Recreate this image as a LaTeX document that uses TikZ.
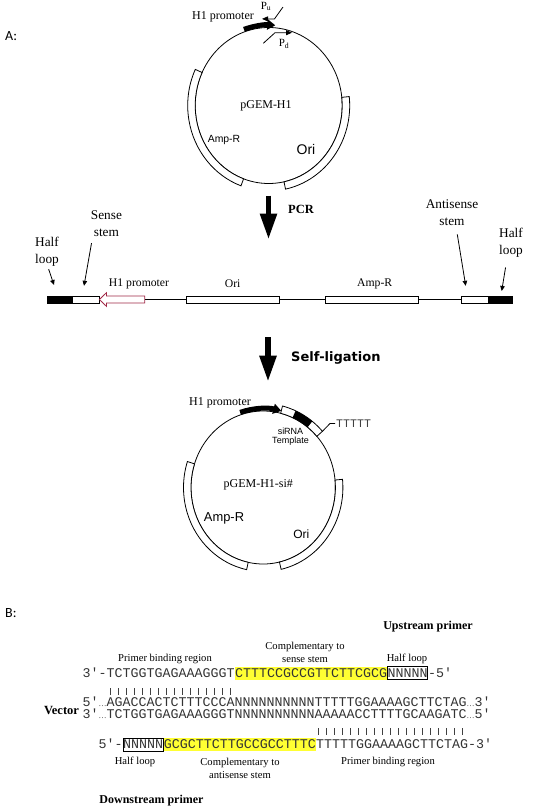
\documentclass[tikz,border=0pt]{standalone}
\usepackage{fontspec}
\setmainfont{Liberation Serif}
\setsansfont{Liberation Sans}
\setmonofont{Liberation Mono}
\newfontfamily\calfont{Carlito}
\newfontfamily\djfont{DejaVu Sans}
\usetikzlibrary{arrows.meta,positioning}
\definecolor{hlyellow}{RGB}{255,255,51}
\definecolor{promred}{RGB}{160,40,70}

\begin{document}
\begin{tikzpicture}[x = 1pt, y = -1pt,
    every node/.style = {inner sep = 1pt},
    ln/.style = {line width = 0.8pt},
    ring/.style = {draw, line width = 0.8pt, fill = white},
    bigarrow/.style = {line width = 5.5pt, -{Triangle[length = 26pt, width = 16pt]}},
    ptr/.style = {line width = 0.8pt, -{Triangle[length = 5pt, width = 4.5pt]}},
    primer/.style = {line width = 0.8pt, -{Triangle[length = 6pt, width = 5pt]}},
    lbl/.style = {font = \fontsize{13.3}{17}\selectfont, align = center},
    cons/.style = {font = \fontsize{11.7}{13}\selectfont},
    note/.style = {font = \fontsize{10.6}{13}\selectfont, align = center},
    head/.style = {font = \bfseries\fontsize{12}{14}\selectfont},
    seq/.style = {font = \ttfamily\fontsize{13.33}{14}\selectfont, text = black!80, inner sep = 0pt,
        anchor = base west, text height = 10.5pt, text depth = 2.5pt},
    nbox/.style = {draw = black, line width = 0.7pt},
    wbox/.style = {draw, ln, fill = white, minimum height = 7pt, inner sep = 0pt, anchor = west},
    bbox/.style = {draw, ln, fill = black, minimum height = 7pt, inner sep = 0pt, anchor = west},
    bar/.style = {line width = 0.6pt, black!75}]
    \useasboundingbox (0,0) rectangle (538,809);

    % ---------------- A: pGEM-H1
    \node[font = \calfont\fontsize{14}{16}\selectfont, anchor = west] (alabel) at (4,36) {A:};
    \coordinate (c1) at (268.7,105.5);
    \draw[ln] (c1) ellipse [x radius = 73.5, y radius = 78];
    % Amp-R (155 to 250 deg)
    \draw[ring] (202.09,72.54) arc[start angle = -155, end angle = -250, x radius = 73.5, y radius = 78]
        -- (241.0,185.84) arc[start angle = -250, end angle = -155, x radius = 81, y radius = 85.5] -- cycle;
    % Ori (6 to -78 deg)
    \draw[ring] (341.8,97.35) arc[start angle = -6, end angle = 78, x radius = 73.5, y radius = 78]
        -- (285.54,189.13) arc[start angle = 78, end angle = -6, x radius = 81, y radius = 85.5] -- cycle;
    \draw[line width = 5pt, -{Triangle[length = 8pt, width = 10pt]}]
        (243.96,29.39) arc[start angle = -109, end angle = -85, x radius = 76, y radius = 80.5];
    % primers
    \draw[primer] (283,7) -- (274.5,18.9) -- (262,18.9);
    \draw[primer] (263.3,43.3) -- (275,32.7) -- (292,32.7);
    \node[font = \fontsize{12}{14}\selectfont] (h1a) at (223,16.5) {H1 promoter};
    \node[font = \fontsize{11}{12}\selectfont] (pu) at (266,6.5) {P\textsubscript{u}};
    \node[font = \fontsize{11}{12}\selectfont] (pd) at (284,44) {P\textsubscript{d}};
    \node[font = \fontsize{12}{14}\selectfont] (pgem) at (266,106) {pGEM-H1};
    \node[font = \sffamily\fontsize{10.4}{12}\selectfont] (ampa) at (224,140) {Amp-R};
    \node[font = \sffamily\fontsize{14}{16}\selectfont] (oria) at (306,149) {Ori};

    % PCR
    \coordinate (pcrtop) at (268.5,195.6);
    \coordinate (pcrtip) at (268.5,239.5);
    \draw[bigarrow] (pcrtop) -- (pcrtip);
    \node[head, font = \bfseries\fontsize{12.5}{14}\selectfont, anchor = west] (pcr) at (287,209.6) {PCR};

    % linear product
    \node[bbox, minimum width = 24pt] (lblack) at (47,299.5) {};
    \node[wbox, minimum width = 26.8pt] (lwhite) at (lblack.east) {};
    \node[wbox, minimum width = 92.7pt] (orib) at (186,299.5) {};
    \node[wbox, minimum width = 92.7pt] (ampb) at (325.3,299.5) {};
    \node[wbox, minimum width = 27.5pt] (rwhite) at (460.5,299.5) {};
    \node[bbox, minimum width = 23.3pt] (rblack) at (rwhite.east) {};
    \draw[ln] (lwhite.east) -- (orib.west);
    \draw[ln] (orib.east) -- (ampb.west);
    \draw[ln] (ampb.east) -- (rwhite.west);
    \draw[promred, line width = 0.8pt, fill = white] (144.8,296) -- (106.4,296) -- (106.4,292.7)
        -- (lwhite.east) -- (106.4,306.3) -- (106.4,303) -- (144.8,303) -- cycle;
    \node[cons] (h1b) at (139,284) {H1 promoter};
    \node[cons] (orilbl) at (232.7,284) {Ori};
    \node[cons] (amplbl) at (374.7,284) {Amp-R};

    \node[lbl] (hlL) at (47,251.5) {Half\\loop};
    \node[lbl] (sense) at (106.4,224) {Sense\\stem};
    \node[lbl] (anti) at (452,212.3) {Antisense\\stem};
    \node[lbl] (hlR) at (511,242.8) {Half\\loop};
    \coordinate (hlLend) at (54,285);
    \coordinate (senseend) at (84,285.8);
    \coordinate (antiend) at (465.7,285.8);
    \coordinate (hlRend) at (501.7,291);
    \draw[ptr, shorten <= 2pt] ([xshift = 1pt]hlL.south) -- (hlLend);
    \draw[ptr, shorten <= 5pt] ([xshift = -14pt]sense.south) -- (senseend);
    \draw[ptr, shorten <= 8pt] ([xshift = 4pt]anti.south) -- (antiend);
    \draw[ptr, shorten <= 9pt] ([xshift = -4pt]hlR.south) -- (hlRend);

    % self-ligation
    \coordinate (ligtop) at (268,337);
    \coordinate (ligtip) at (268,381.7);
    \draw[bigarrow] (ligtop) -- (ligtip);
    \node[font = \djfont\bfseries\fontsize{13}{15}\selectfont, anchor = west] (lig) at (290,358) {Self-ligation};

    % pGEM-H1-si#
    \coordinate (c2) at (263.2,487.5);
    \draw[ln] (c2) ellipse [x radius = 72.2, y radius = 76.5];
    % Amp-R (162 to 258 deg)
    \draw[ring] (194.53,463.86) arc[start angle = -162, end angle = -258, x radius = 72.2, y radius = 76.5]
        -- (246.63,569.66) arc[start angle = -258, end angle = -162, x radius = 79.7, y radius = 84] -- cycle;
    % Ori (5.6 to -77 deg)
    \draw[ring] (335.05,480.03) arc[start angle = -5.6, end angle = 77, x radius = 72.2, y radius = 76.5]
        -- (281.13,569.35) arc[start angle = 77, end angle = -5.6, x radius = 79.7, y radius = 84] -- cycle;
    % siRNA template (76 to 42 deg), loop part filled
    \draw[ring] (280.67,413.27) arc[start angle = -76, end angle = -42, x radius = 72.2, y radius = 76.5]
        -- (322.43,431.3) arc[start angle = -42, end angle = -76, x radius = 79.7, y radius = 84] -- cycle;
    \fill (292.57,417.62) arc[start angle = -66, end angle = -52, x radius = 72.2, y radius = 76.5]
        -- (312.27,421.31) arc[start angle = -52, end angle = -66, x radius = 79.7, y radius = 84] -- cycle;
    \draw[line width = 5pt, -{Triangle[length = 8pt, width = 10pt]}]
        (240.12,412.36) arc[start angle = -108, end angle = -76, x radius = 74.7, y radius = 79];
    \node[font = \fontsize{12}{14}\selectfont] (h1c) at (220,403) {H1 promoter};
    \node[font = \sffamily\fontsize{9}{9.5}\selectfont, align = center] (tmpl) at (290.5,436.5) {siRNA\\Template};
    \node[font = \ttfamily\fontsize{11.6}{13}\selectfont, text = black!75, anchor = west] (tttt) at (335,423.5) {TTTTT};
    \coordinate (tplend) at (322.43,431.3);
    \draw[ln] (tplend) -- ([xshift = -5pt]tttt.west) -- (tttt.west);
    \node[font = \fontsize{12}{14}\selectfont] (pgemsi) at (258.3,485) {pGEM-H1-si\#};
    \node[font = \sffamily\fontsize{12.9}{15}\selectfont] (ampc) at (224,518.3) {Amp-R};
    \node[font = \sffamily\fontsize{12}{14}\selectfont] (oric) at (301.3,534) {Ori};

    % ---------------- B: primers
    \node[font = \calfont\fontsize{14}{16}\selectfont, anchor = west] (blabel) at (4,613) {B:};
    \node[head] (upprimer) at (428,627) {Upstream primer};
    \node[note] (cmpsense) at (305,652.5) {Complementary to\\sense stem};
    \node[note] (pbr1) at (165,659) {Primer binding region};
    \node[note] (hl1) at (407,659) {Half loop};

    \node[seq] (up1) at (82.5,677) {3′-TCTGGTGAGAAAGGGT};
    \node[seq, fill = hlyellow] (up2) at (up1.base east) {CTTTCCGCCGTTCTTCGCG};
    \node[seq, nbox] (up3) at (up2.base east) {NNNNN};
    \node[seq] (up4) at (up3.base east) {-5′};
    \foreach \i in {0,...,15}
        \draw[bar] (110.5+8*\i,688) -- ++(0,7);

    \node[head, font = \bfseries\fontsize{12.5}{14}\selectfont] (vector) at (61.5,710) {Vector};
    \node[seq] (vec1) at (82.5,706) {5′{\rmfamily\fontsize{8}{8}\selectfont …}AGACCACTCTTTCCCANNNNNNNNNNTTTTTGGAAAAGCTTCTAG{\rmfamily\fontsize{8}{8}\selectfont …}3′};
    \node[seq] (vec2) at (82.5,718) {3′{\rmfamily\fontsize{8}{8}\selectfont …}TCTGGTGAGAAAGGGTNNNNNNNNNNAAAAACCTTTTGCAAGATC{\rmfamily\fontsize{8}{8}\selectfont …}5′};
    \foreach \i in {0,...,18}
        \draw[bar] (318.5+8*\i,728) -- ++(0,7);

    \node[seq] (dn1) at (98.5,748.5) {5′-};
    \node[seq, nbox] (dn2) at (dn1.base east) {NNNNN};
    \node[seq, fill = hlyellow] (dn3) at (dn2.base east) {GCGCTTCTTGCCGCCTTTC};
    \node[seq] (dn4) at (dn3.base east) {TTTTTGGAAAAGCTTCTAG-3′};

    \node[note] (hl2) at (135,762) {Half loop};
    \node[note] (cmpanti) at (240,768) {Complementary to\\antisense stem};
    \node[note] (pbr2) at (388,762) {Primer binding region};
    \node[head] (dnprimer) at (151.5,801) {Downstream primer};
\end{tikzpicture}
\end{document}
